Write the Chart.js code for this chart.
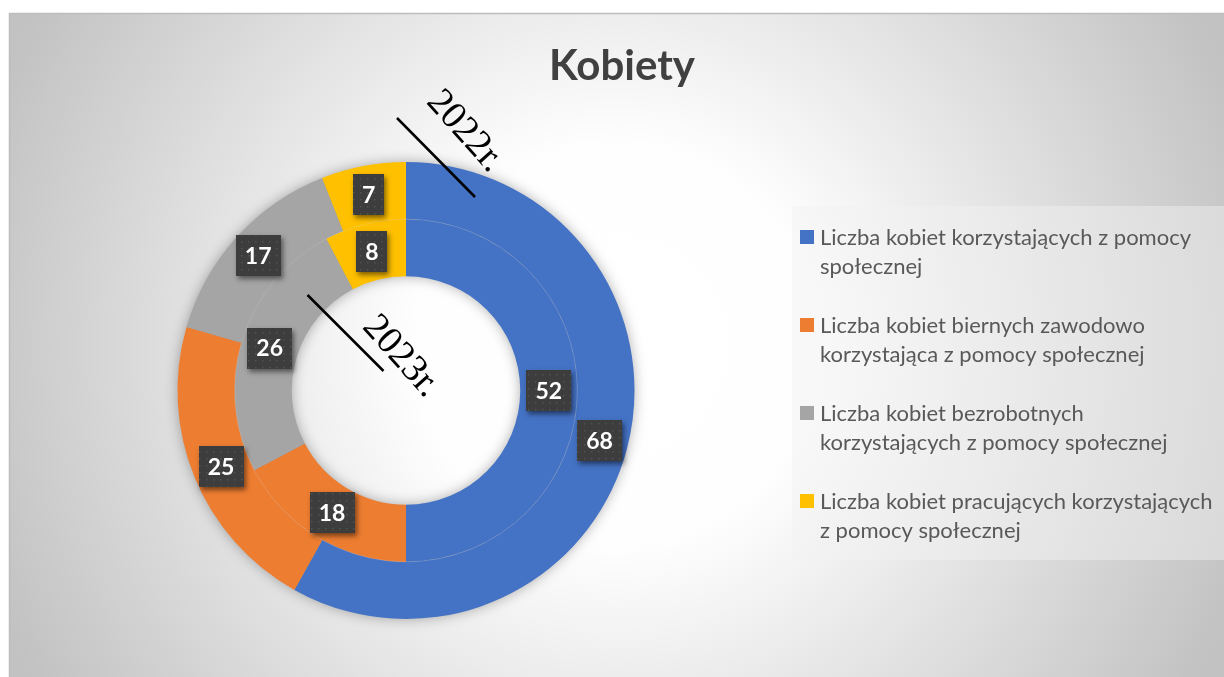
<!DOCTYPE html>
<html><head><meta charset="utf-8">
<script src="https://cdn.jsdelivr.net/npm/chart.js@4.4.1/dist/chart.umd.min.js"></script>
<style>html,body{margin:0;padding:0;background:#fff;overflow:hidden}canvas{display:block}</style>
</head><body>
<canvas id="c" width="1224" height="677"></canvas>
<script>
const chartTitle = 'Kobiety';
const categories = [
  ['Liczba kobiet korzystających z pomocy', 'społecznej'],
  ['Liczba kobiet biernych zawodowo', 'korzystająca z pomocy społecznej'],
  ['Liczba kobiet bezrobotnych', 'korzystających z pomocy społecznej'],
  ['Liczba kobiet pracujących korzystających', 'z pomocy społecznej']
];
const seriesNames = ['2022r.', '2023r.'];
const values2022 = [68, 25, 17, 7];
const values2023 = [52, 18, 26, 8];
const sliceColors = ['#4472C4', '#ED7D31', '#A5A5A5', '#FFC000'];

const W = 1224, H = 677;

function makePattern(ctx) {
  const pc = document.createElement('canvas');
  pc.width = 7; pc.height = 7;
  const p = pc.getContext('2d');
  p.fillStyle = '#3d3d3d'; p.fillRect(0, 0, 7, 7);
  p.fillStyle = '#525252'; p.fillRect(3, 3, 1.5, 1.5);
  return ctx.createPattern(pc, 'repeat');
}

const bgPlugin = {
  id: 'bg',
  beforeDraw(chart) {
    const ctx = chart.ctx;
    ctx.save();
    ctx.fillStyle = '#ffffff';
    ctx.fillRect(0, 0, W, H);
    const g = ctx.createRadialGradient(616, 345, 0, 616, 345, 670);
    g.addColorStop(0, '#ffffff');
    g.addColorStop(0.3, '#fefefe');
    g.addColorStop(1, '#c2c2c2');
    ctx.fillStyle = g;
    ctx.fillRect(9, 13, W - 9, H - 13);
    ctx.strokeStyle = '#bdbdbd';
    ctx.lineWidth = 1.5;
    ctx.beginPath();
    ctx.moveTo(9.5, H); ctx.lineTo(9.5, 13.5); ctx.lineTo(W, 13.5);
    ctx.stroke();
    ctx.restore();
  }
};

const ringShadow = {
  id: 'ringShadow',
  beforeDatasetsDraw(chart) {
    const m0 = chart.getDatasetMeta(0).data[0];
    const m1 = chart.getDatasetMeta(1).data[0];
    if (!m0 || !m1) return;
    const ctx = chart.ctx;
    const x = m0.x, y = m0.y;
    ctx.save();
    ctx.shadowColor = 'rgba(0,0,0,0.35)';
    ctx.shadowBlur = 14;
    ctx.fillStyle = '#999';
    ctx.beginPath();
    ctx.arc(x, y, m0.outerRadius - 1, 0, Math.PI * 2);
    ctx.arc(x, y, m1.innerRadius + 1, 0, Math.PI * 2, true);
    ctx.fill();
    ctx.restore();
  },
  afterDatasetsDraw(chart) {
    const ctx = chart.ctx;
    const m0 = chart.getDatasetMeta(0).data[0];
    ctx.save();
    ctx.strokeStyle = 'rgba(255,255,255,0.22)';
    ctx.lineWidth = 0.7;
    ctx.beginPath();
    ctx.arc(m0.x, m0.y, m0.innerRadius, 0, Math.PI * 2);
    ctx.stroke();
    ctx.restore();

    const pattern = makePattern(ctx);
    ctx.save();
    ctx.font = 'bold 23px Lato';
    ctx.textAlign = 'center';
    ctx.textBaseline = 'middle';
    chart.data.datasets.forEach((ds, di) => {
      const meta = chart.getDatasetMeta(di);
      meta.data.forEach((arc, i) => {
        const p = arc.tooltipPosition();
        const txt = String(ds.data[i]);
        const tw = ctx.measureText(txt).width;
        const bw = Math.round(tw + 18), bh = 41;
        const bx = Math.round(p.x - bw / 2), by = Math.round(p.y - bh / 2);
        ctx.save();
        ctx.shadowColor = 'rgba(0,0,0,0.5)';
        ctx.shadowBlur = 5;
        ctx.shadowOffsetX = 2;
        ctx.shadowOffsetY = 3;
        ctx.fillStyle = '#3d3d3d';
        ctx.fillRect(bx, by, bw, bh);
        ctx.restore();
        ctx.fillStyle = pattern;
        ctx.fillRect(bx, by, bw, bh);
        ctx.fillStyle = '#ffffff';
        ctx.fillText(txt, p.x, p.y + 1);
      });
    });
    ctx.restore();
  }
};

const annotations = {
  id: 'annotations',
  afterDraw(chart) {
    const ctx = chart.ctx;
    const c = chart.getDatasetMeta(0).data[0];
    const cx = c.x, cy = c.y;
    ctx.save();
    ctx.strokeStyle = '#000';
    ctx.lineWidth = 2.5;
    ctx.beginPath();
    ctx.moveTo(cx - 9, cy - 272.5); ctx.lineTo(cx + 69, cy - 193.5);
    ctx.moveTo(cx - 98.5, cy - 95.5); ctx.lineTo(cx - 22.5, cy - 19.5);
    ctx.stroke();
    ctx.fillStyle = '#000';
    ctx.font = '38px "Liberation Serif"';
    ctx.textAlign = 'center';
    ctx.textBaseline = 'middle';
    const yearPos = [[cx + 59, cy - 259], [cx - 5, cy - 34]];
    seriesNames.forEach((s, i) => {
      ctx.save();
      ctx.translate(yearPos[i][0], yearPos[i][1]);
      ctx.rotate(48 * Math.PI / 180);
      ctx.fillText(s, 0, 0);
      ctx.restore();
    });

    ctx.fillStyle = '#404040';
    ctx.font = 'bold 42px Lato';
    ctx.textAlign = 'center';
    ctx.textBaseline = 'alphabetic';
    ctx.fillText(chartTitle, 622, 80);

    ctx.fillStyle = 'rgba(242,242,242,0.45)';
    ctx.fillRect(792, 206, W - 792, 354);
    ctx.font = '22px Lato';
    ctx.textAlign = 'left';
    ctx.textBaseline = 'middle';
    const ds = chart.data.datasets[0];
    chart.data.labels.forEach((lab, i) => {
      const y0 = 237 + i * 88;
      ctx.fillStyle = ds.backgroundColor[i];
      ctx.fillRect(800, y0 - 7, 14, 14);
      ctx.fillStyle = '#595959';
      lab.forEach((line, j) => ctx.fillText(line, 820, y0 + 1 + j * 29));
    });
    ctx.restore();
  }
};

new Chart(document.getElementById('c'), {
  type: 'doughnut',
  data: {
    labels: categories,
    datasets: [
      { label: seriesNames[0], data: values2022, backgroundColor: sliceColors, borderWidth: 0, hoverOffset: 0 },
      { label: seriesNames[1], data: values2023, backgroundColor: sliceColors, borderWidth: 0, hoverOffset: 0 }
    ]
  },
  options: {
    responsive: false,
    animation: false,
    events: [],
    cutout: '50%',
    layout: { padding: { left: 177.5, right: 589.5, top: 162, bottom: 58 } },
    plugins: { legend: { display: false }, tooltip: { enabled: false }, title: { display: false } }
  },
  plugins: [bgPlugin, ringShadow, annotations]
});
</script>
</body></html>
